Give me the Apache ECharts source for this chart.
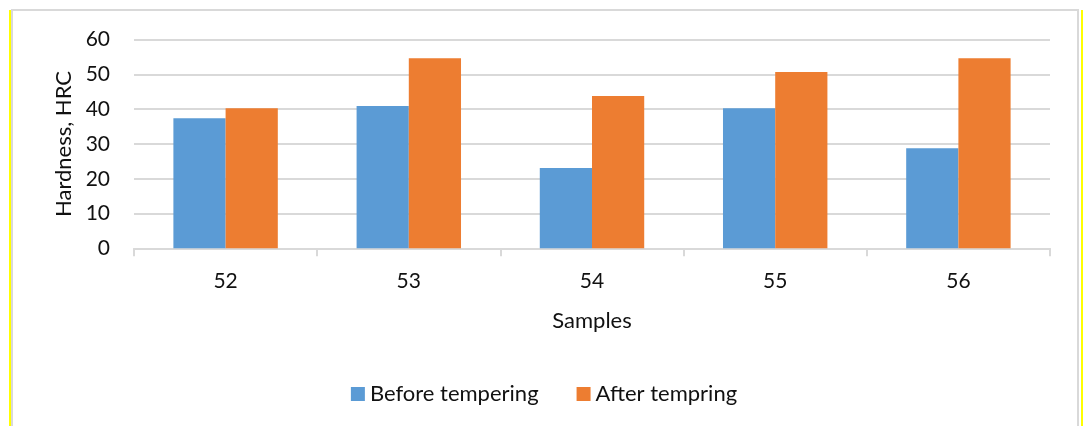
<!DOCTYPE html>
<html>
<head>
<meta charset="utf-8">
<script src="https://cdn.jsdelivr.net/npm/echarts@6/dist/echarts.min.js"></script>
<style>
html,body{margin:0;padding:0;background:#fff;}
#c{width:1088px;height:426px;}
</style>
</head>
<body>
<div id="c"></div>
<script>
const categories = ['52', '53', '54', '55', '56'];
const beforeTempering = [37.4, 40.9, 23.1, 40.3, 28.8];
const afterTempering = [40.3, 54.7, 43.8, 50.7, 54.7];
const seriesNames = ['Before tempering', 'After tempring'];
const yTicks = { min: 0, max: 60, interval: 10 };

const FONT = 'Lato';
const TXT = '#111';
const GRID = '#d9d9d9';

const chart = echarts.init(document.getElementById('c'), null, { renderer: 'canvas' });
chart.setOption({
  animation: false,
  backgroundColor: '#fff',
  textStyle: { fontFamily: FONT },
  graphic: [
    { type: 'rect', shape: { x: 12, y: 10, width: 1066, height: 430 }, style: { fill: 'none', stroke: GRID, lineWidth: 2 }, z: -1 },
    { type: 'rect', shape: { x: 9, y: 10, width: 2, height: 430 }, style: { fill: '#ffff00' } },
    { type: 'rect', shape: { x: 1081, y: 10, width: 2, height: 430 }, style: { fill: '#ffff00' } }
  ],
  grid: { left: 134, right: 38, top: 39.7, bottom: 177.7, containLabel: false },
  legend: {
    data: seriesNames,
    left: 'center',
    top: 378,
    itemWidth: 14,
    itemHeight: 14,
    itemGap: 38,
    icon: 'rect',
    textStyle: { fontFamily: FONT, fontSize: 22, color: TXT, padding: [0, 0, 0, 0] }
  },
  xAxis: {
    type: 'category',
    data: categories,
    name: 'Samples',
    nameLocation: 'middle',
    nameGap: 73,
    nameTextStyle: { fontFamily: FONT, fontSize: 22, color: TXT, verticalAlign: 'middle' },
    axisLine: { lineStyle: { color: GRID, width: 2 } },
    axisTick: { show: true, length: 8, lineStyle: { color: GRID, width: 2 } },
    axisLabel: { fontFamily: FONT, fontSize: 21, color: TXT, margin: 22 },
    splitLine: { show: false }
  },
  yAxis: {
    type: 'value',
    min: yTicks.min, max: yTicks.max, interval: yTicks.interval,
    name: 'Hardness, HRC',
    nameLocation: 'middle',
    nameGap: 69,
    nameTextStyle: { fontFamily: FONT, fontSize: 22, color: TXT, verticalAlign: 'middle' },
    axisLine: { show: false },
    axisTick: { show: false },
    axisLabel: { fontFamily: FONT, fontSize: 21, color: TXT, margin: 24 },
    splitLine: { lineStyle: { color: GRID, width: 2 } }
  },
  series: [
    { name: seriesNames[0], type: 'bar', data: beforeTempering, itemStyle: { color: '#5b9bd5' }, barGap: '0%', barCategoryGap: '43%' },
    { name: seriesNames[1], type: 'bar', data: afterTempering, itemStyle: { color: '#ed7d31' }, barGap: '0%', barCategoryGap: '43%' }
  ]
});
</script>
</body>
</html>
